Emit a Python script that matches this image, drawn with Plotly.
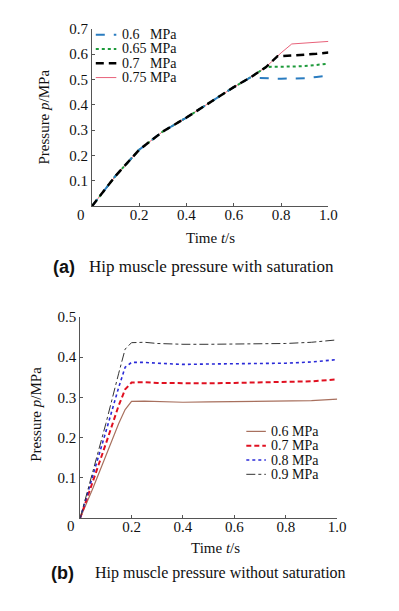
import plotly.graph_objects as go

W, H = 399, 611

# ---------------- data: (a) with saturation ----------------
t_a = [0, 0.1, 0.2, 0.3, 0.4, 0.5, 0.6, 0.67, 0.7, 0.735, 0.76, 0.785, 0.8, 0.845, 0.9, 0.95, 1.0]
p_a_06 = [0, 0.12, 0.223, 0.295, 0.35, 0.41, 0.47, 0.508, 0.506, 0.505, 0.504, 0.503, 0.503, 0.503, 0.505, 0.510, 0.515]
p_a_065 = [0, 0.12, 0.223, 0.295, 0.35, 0.41, 0.47, 0.508, 0.525, 0.548, 0.550, 0.550, 0.550, 0.551, 0.553, 0.557, 0.562]
p_a_07 = [0, 0.12, 0.223, 0.295, 0.35, 0.41, 0.47, 0.508, 0.525, 0.548, 0.570, 0.592, 0.592, 0.594, 0.596, 0.601, 0.606]
p_a_075 = [0, 0.12, 0.223, 0.295, 0.35, 0.41, 0.47, 0.508, 0.525, 0.548, 0.570, 0.592, 0.605, 0.640, 0.643, 0.646, 0.650]
labels_a = ["0.6\u00a0\u00a0\u00a0MPa", "0.65 MPa", "0.7\u00a0\u00a0\u00a0MPa", "0.75 MPa"]

# ---------------- data: (b) without saturation ----------------
t_b = [0, 0.05, 0.1, 0.15, 0.175, 0.2, 0.25, 0.3, 0.4, 0.5, 0.6, 0.7, 0.8, 0.9, 1.0]
p_b_06 = [0, 0.075, 0.155, 0.235, 0.270, 0.290, 0.291, 0.290, 0.288, 0.289, 0.290, 0.290, 0.291, 0.292, 0.296]
p_b_07 = [0, 0.090, 0.185, 0.280, 0.320, 0.337, 0.338, 0.336, 0.335, 0.335, 0.336, 0.337, 0.338, 0.340, 0.345]
p_b_08 = [0, 0.105, 0.215, 0.325, 0.375, 0.387, 0.387, 0.385, 0.382, 0.383, 0.384, 0.384, 0.385, 0.388, 0.394]
p_b_09 = [0, 0.115, 0.235, 0.360, 0.420, 0.436, 0.437, 0.434, 0.432, 0.432, 0.433, 0.433, 0.434, 0.437, 0.443]
labels_b = ["0.6 MPa", "0.7 MPa", "0.8 MPa", "0.9 MPa"]

xticks = [0.2, 0.4, 0.6, 0.8, 1.0]
xticktext = ["0.2", "0.4", "0.6", "0.8", "1.0"]
yticks_a = [0.1, 0.2, 0.3, 0.4, 0.5, 0.6, 0.7]
yticks_b = [0.1, 0.2, 0.3, 0.4, 0.5]

SERIF = "Liberation Serif"
SANS = "Liberation Sans"


def px(x):
    return x / W


def py(y):
    return 1 - y / H


styles_a = [
    dict(color="#2a7cc0", dash="dash", width=2),
    dict(color="#1d9a3a", dash="dot", width=2),
    dict(color="#000000", dash="8px,5px", width=2.5),
    dict(color="#e8627a", dash="solid", width=1),
]
styles_b = [
    dict(color="#a8705e", dash="solid", width=1.2),
    dict(color="#e01020", dash="5px,3px", width=2),
    dict(color="#2a2ad8", dash="dot", width=1.6),
    dict(color="#333333", dash="dashdot", width=1),
]

fig = go.Figure()
series_a = [p_a_06, p_a_065, p_a_07, p_a_075]
for i in [3, 1, 0, 2]:
    fig.add_trace(go.Scatter(x=t_a, y=series_a[i], mode="lines", line=styles_a[i],
                             name=labels_a[i], xaxis="x", yaxis="y", showlegend=False))
series_b = [p_b_06, p_b_07, p_b_08, p_b_09]
for i in range(4):
    fig.add_trace(go.Scatter(x=t_b, y=series_b[i], mode="lines", line=styles_b[i],
                             name=labels_b[i], xaxis="x2", yaxis="y2", showlegend=False))

axis_common = dict(showline=True, linecolor="#555555", linewidth=1, ticks="inside",
                   ticklen=3, tickcolor="#555555", showgrid=False, zeroline=False,
                   tickfont=dict(family=SERIF, size=15, color="#111111"))

fig.update_layout(
    width=W, height=H, margin=dict(l=0, r=0, t=0, b=0),
    paper_bgcolor="white", plot_bgcolor="white", showlegend=False,
    xaxis=dict(domain=[px(94), px(336)], range=[0, 1], anchor="y", ticklabelstandoff=-5,
               tickvals=xticks, ticktext=xticktext, **axis_common),
    yaxis=dict(domain=[py(201), py(21)], range=[0, 0.7], anchor="x", ticklabelstandoff=0,
               tickvals=yticks_a, **axis_common),
    xaxis2=dict(domain=[px(82), px(345)], range=[0, 1], anchor="y2", ticklabelstandoff=-5,
                tickvals=xticks, ticktext=xticktext, **axis_common),
    yaxis2=dict(domain=[py(517), py(313)], range=[0, 0.5], anchor="x2", ticklabelstandoff=0,
                tickvals=yticks_b, **axis_common),
)

ann = []


def text(x, y, s, size=15, family=SERIF, xanchor="center", yanchor="middle", angle=0,
         color="#111111", height=None):
    a = dict(x=px(x), y=py(y), xref="paper", yref="paper", text=s, showarrow=False,
             xanchor=xanchor, yanchor=yanchor, textangle=angle,
             font=dict(family=family, size=size, color=color))
    if height is not None:
        a["height"] = height
    ann.append(a)


# corner zeros
text(83, 210, "0")
text(73, 525, "0")
# axis titles
text(45, 110, "Pressure <i>p</i>/MPa", angle=-90)
text(36, 412, "Pressure <i>p</i>/MPa", angle=-90)
text(215, 233, "Time <i>t</i>/s")
text(220, 547, "Time <i>t</i>/s")
# captions
text(52, 262, "<b>(a)</b>", size=18, family=SANS, xanchor="left")
text(89, 262, "Hip muscle pressure with saturation", size=17, xanchor="left")
text(50, 573, "<b>(b)</b>", size=18, family=SANS, xanchor="left")
text(95, 573, "Hip muscle pressure without saturation", size=16, xanchor="left")

# legends
shapes = []
rows_a = [27, 41.5, 56, 70.5]
for i in range(4):
    st = styles_a[i]
    shapes.append(dict(type="line", xref="paper", yref="paper", x0=px(98), x1=px(119),
                       y0=py(rows_a[i]), y1=py(rows_a[i]),
                       line=dict(color=st["color"], dash=st["dash"], width=st["width"])))
    text(123, rows_a[i], labels_a[i], size=14, xanchor="left", height=13)
rows_b = [429, 443.5, 458, 472.5]
for i in range(4):
    st = styles_b[i]
    shapes.append(dict(type="line", xref="paper", yref="paper", x0=px(252), x1=px(272),
                       y0=py(rows_b[i]), y1=py(rows_b[i]),
                       line=dict(color=st["color"], dash=st["dash"], width=st["width"])))
    text(275, rows_b[i], labels_b[i], size=14, xanchor="left", height=13)

fig.update_layout(annotations=ann, shapes=shapes)
fig.write_html("out.html", config={"displayModeBar": False},
               post_script="document.body.style.margin='0';document.body.style.padding='0';")
